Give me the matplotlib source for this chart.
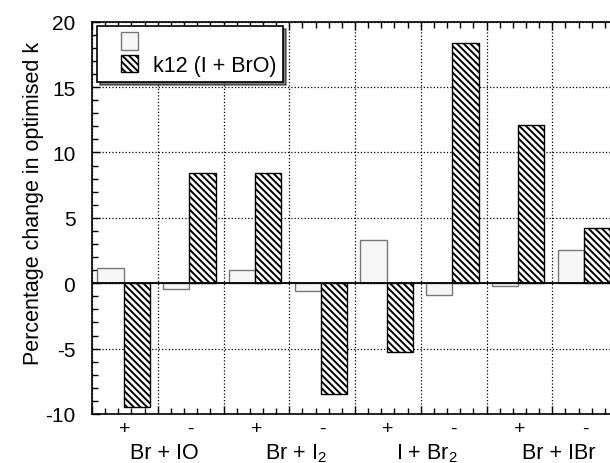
import matplotlib
matplotlib.use("Agg")
import matplotlib.pyplot as plt
import numpy as np
from matplotlib.patches import Rectangle
from matplotlib.legend_handler import HandlerPatch
from matplotlib.ticker import MultipleLocator

plt.rcParams['font.family'] = ['Liberation Sans', 'DejaVu Sans']
plt.rcParams['mathtext.fontset'] = 'custom'
plt.rcParams['mathtext.rm'] = 'Liberation Sans'
plt.rcParams['mathtext.it'] = 'Liberation Sans'
plt.rcParams['axes.unicode_minus'] = False
plt.rcParams['hatch.linewidth'] = 1.4

# ---- data ----
signs = ['+', '-', '+', '-', '+', '-', '+', '-']
reactions = ['Br + IO', 'Br + I$_2$', 'I + Br$_2$', 'Br + IBr']
series_light = [1.17, -0.46, 1.02, -0.59, 3.34, -0.87, -0.23, 2.52]
series_k12 = [-9.44, 8.42, 8.42, -8.44, -5.26, 18.4, 12.09, 4.2]
legend_labels = ['', 'k12 (I + BrO)']
yticks = [-10, -5, 0, 5, 10, 15, 20]

fig = plt.figure(figsize=(6.10, 4.64), dpi=100)
ax = fig.add_axes([92/610, 49/464, 526/610, 392.3/464])

idx = np.arange(len(signs))
b1 = ax.bar(idx + 0.28, series_light, width=0.4, facecolor='#f6f6f6',
            edgecolor='#777777', linewidth=1.0, zorder=3)
b2 = ax.bar(idx + 0.68, series_k12, width=0.4, facecolor='white',
            edgecolor='black', hatch='\\\\\\\\\\', linewidth=1.0, zorder=3)

ax.set_xlim(0, len(signs))
ax.set_ylim(-10, 20)
ax.set_yticks(yticks)
ax.set_yticklabels([str(v) for v in yticks])
ax.yaxis.set_minor_locator(MultipleLocator(1))
ax.set_xticks(np.arange(0, len(signs) + 1))
ax.set_xticklabels([])
ax.xaxis.set_minor_locator(MultipleLocator(0.2))

ax.tick_params(axis='both', which='both', direction='in', top=True, right=True)
ax.tick_params(axis='both', which='major', length=6, width=1)
ax.tick_params(axis='both', which='minor', length=4, width=1)
ax.tick_params(axis='y', labelsize=15, pad=12)

for s in ax.spines.values():
    s.set_linewidth(1.2)

ax.grid(True, which='major', linestyle=':', color='black', linewidth=0.9, zorder=1)
ax.axhline(0, color='black', linewidth=1.3, zorder=4)

for i, s in enumerate(signs):
    ax.text(i + 0.5, -0.036, s, transform=ax.get_xaxis_transform(),
            ha='center', va='center', fontsize=14)
for k, r in enumerate(reactions):
    ax.text(2 * k + 1.1, -0.113, r, transform=ax.get_xaxis_transform(),
            ha='center', va='baseline', fontsize=15.5)

ax.set_ylabel('Percentage change in optimised k', fontsize=15.5)
ax.yaxis.set_label_coords(-0.092, 0.54)


def make_patch(legend, orig_handle, xdescent, ydescent, width, height, fontsize):
    sq = height
    return Rectangle((-xdescent + width - sq, -ydescent), sq, sq)


leg = ax.legend([b1[0], b2[0]], legend_labels, loc='upper left',
                bbox_to_anchor=(0.0095, 0.989), borderaxespad=0,
                fontsize=15.5, handlelength=1.6, handleheight=0.85,
                handletextpad=0.7, borderpad=0.3, labelspacing=0.05,
                fancybox=False, shadow={'shade': 1.0}, framealpha=1,
                edgecolor='black',
                handler_map={Rectangle: HandlerPatch(patch_func=make_patch)})
leg.get_frame().set_linewidth(1.2)
leg.set_zorder(10)

fig.savefig('out.png', dpi=100)
